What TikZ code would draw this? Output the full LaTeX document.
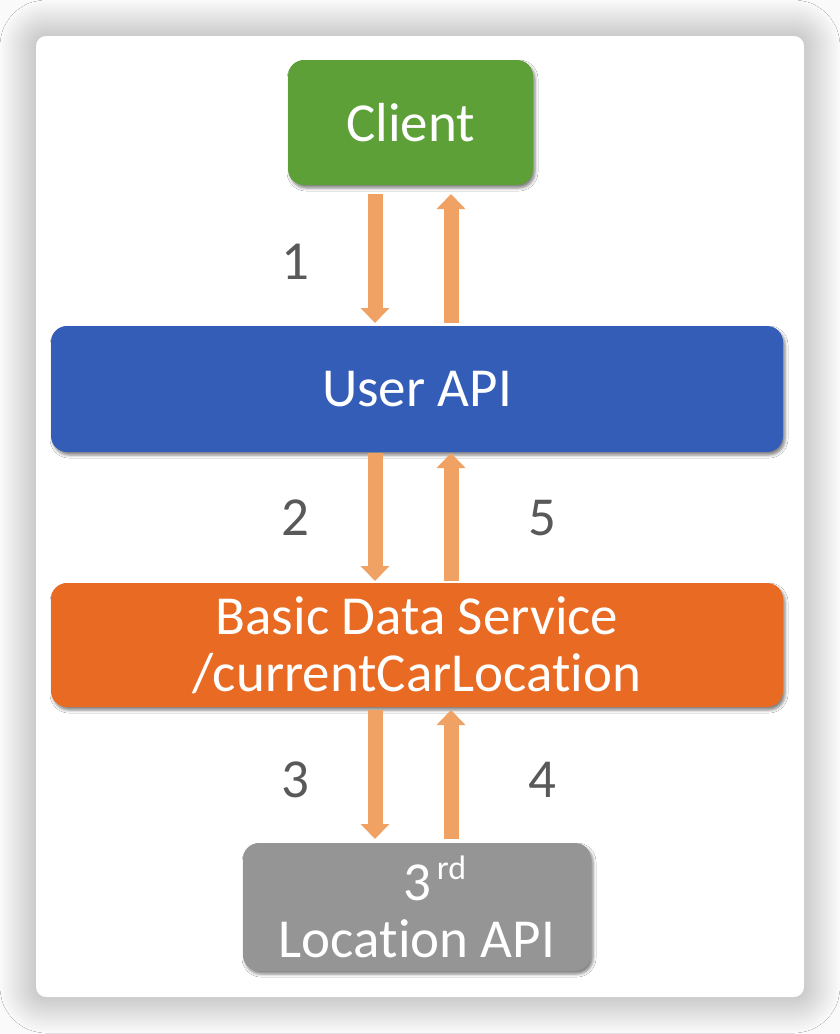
\documentclass[tikz,border=0pt]{standalone}
\usepackage{fontspec}
\setmainfont{Carlito}[Ligatures=NoCommon]
\usepackage{tikz}
\usetikzlibrary{arrows.meta, positioning, shadows.blur}

\definecolor{clientgreen}{RGB}{94,160,56}
\definecolor{userblue}{RGB}{52,93,184}
\definecolor{serviceorange}{RGB}{232,106,35}
\definecolor{locgray}{RGB}{148,149,148}
\definecolor{floworange}{RGB}{240,162,100}
\definecolor{numgray}{RGB}{89,89,89}
\definecolor{pagegray}{RGB}{250,250,250}

\begin{document}
\begin{tikzpicture}[
	x=1pt, y=-1pt,
	every node/.style={font=\fontsize{55}{57}\selectfont},
	box/.style={rectangle, rounded corners=16pt, text=white, align=center, inner sep=0pt, outer sep=0pt,
		blur shadow={shadow xshift=2pt, shadow yshift=-3pt, shadow blur radius=3pt, shadow opacity=50}},
	flow/.style={line width=15pt, draw=floworange, -{Triangle[width=28pt, length=15pt]}},
	num/.style={text=numgray}
	]
	\useasboundingbox (0,0) rectangle (840,1034);
	
	% Card
	\fill[pagegray] (0,0) rectangle (840,1034);
	\path[fill=white, rounded corners=10pt, blur shadow={shadow xshift=0pt, shadow yshift=0pt, shadow blur radius=36pt, shadow blur steps=24, shadow opacity=38}]
		(36,36) rectangle (804,997);
	
	% Nodes
	\node[box, fill=userblue, minimum width=732pt, minimum height=126pt] (user) at (417,389) {User API};
	\node[box, fill=clientgreen, minimum width=245pt, minimum height=125pt, above=141pt of user, xshift=-6.5pt] (client) {Client};
	\node[box, fill=serviceorange, minimum width=732pt, minimum height=124pt, below=131pt of user] (basic) {Basic Data Service\\/currentCarLocation};
	\node[box, fill=locgray, minimum width=348pt, minimum height=128pt, below=136pt of basic] (location) {3\rlap{\hspace{6pt}\raisebox{21pt}{\fontsize{34}{34}\selectfont rd}}\\Location API};
	
	% Arrows
	\coordinate (dn) at (375,0);
	\coordinate (up) at (451,0);
	\draw[flow, shorten <=9pt, shorten >=3pt] (client.south -| dn) -- (user.north -| dn);
	\draw[flow, shorten <=3pt, shorten >=9pt] (user.north -| up) -- (client.south -| up);
	\draw[flow, shorten <=1pt, shorten >=2pt] (user.south -| dn) -- (basic.north -| dn);
	\draw[flow, shorten <=2pt, shorten >=1pt] (basic.north -| up) -- (user.south -| up);
	\draw[flow, shorten <=3pt, shorten >=4pt] (basic.south -| dn) -- (location.north -| dn);
	\draw[flow, shorten <=4pt, shorten >=3pt] (location.north -| up) -- (basic.south -| up);
	
	% Labels
	\node[num] (n1) at (295,262) {1};
	\node[num] (n2) at (295,518) {2};
	\node[num] (n5) at (542,518) {5};
	\node[num] (n3) at (295,780) {3};
	\node[num] (n4) at (542,780) {4};
\end{tikzpicture}
\end{document}
